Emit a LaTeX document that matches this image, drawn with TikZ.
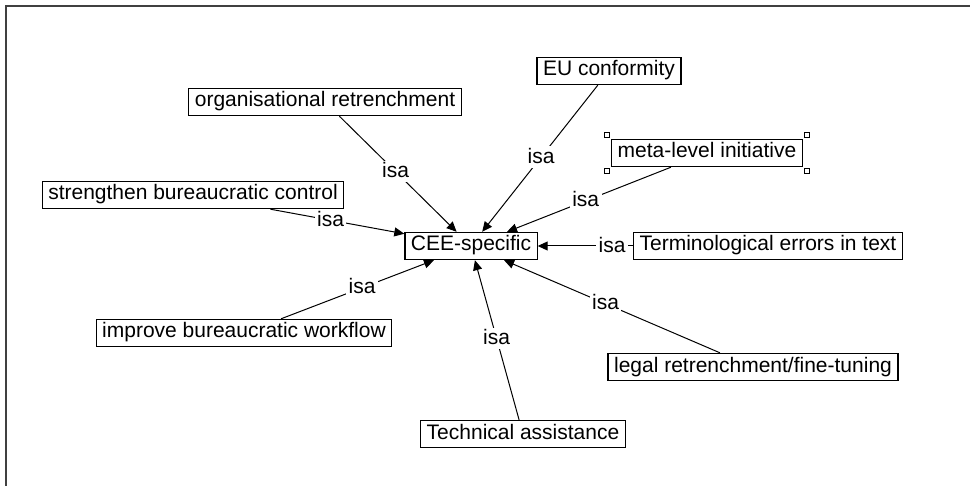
\documentclass[tikz,border=0pt]{standalone}
\usepackage{fontspec}
\setmainfont{Liberation Sans}
\usetikzlibrary{shapes,arrows.meta,positioning,calc}

\tikzset{
  concept/.style={draw, line width=0.6pt, inner xsep=3pt, inner ysep=2.1pt, text height=0.72em, text depth=0.22em},
  isa/.style={fill=white, inner sep=1.2pt, text height=0.72em, text depth=0.1em},
  rel/.style={-{Triangle[length=5pt,width=4.5pt]}, line width=0.5pt},
  handle/.style={draw, fill=white, line width=0.4pt, minimum size=2.6pt, inner sep=0pt}
}

\begin{document}
\begin{tikzpicture}[x=0.5pt,y=-0.5pt,font=\fontsize{10.5}{12}\selectfont]
  \useasboundingbox (0,0) rectangle (970,486);
  \draw[line width=1pt, black!75] (6,486) -- (6,6) -- (970,6);

  \node[concept] (cee) at (471,246) {CEE-specific};
  \node[concept] (org) at (325,102) {organisational retrenchment};
  \node[concept] (str) at (193,195) {strengthen bureaucratic control};
  \node[concept] (eu) at (609,71) {EU conformity};
  \node[concept] (meta) at (707,153) {meta-level initiative};
  \node[concept] (term) at (768,246) {Terminological errors in text};
  \node[concept] (legal) at (753,367) {legal retrenchment/fine-tuning};
  \node[concept] (tech) at (523,434) {Technical assistance};
  \node[concept] (impr) at (244,333) {improve bureaucratic workflow};

  % selection handles
  \node[handle] (hnw) at ($(meta.north west)+(-4,-4)$) {};
  \node[handle] (hne) at ($(meta.north east)+(4,-4)$) {};
  \node[handle] (hsw) at ($(meta.south west)+(-4,4)$) {};
  \node[handle] (hse) at ($(meta.south east)+(4,4)$) {};

  \draw[rel] (org) -- node[isa, pos=0.48] {isa} (cee);
  \draw[rel] (str) -- node[isa, pos=0.45] {isa} (cee);
  \draw[rel] (eu) -- node[isa, pos=0.49] {isa} (cee);
  \draw[rel] (meta) -- node[isa, pos=0.52] {isa} (cee);
  \draw[rel] (term) -- node[isa, pos=0.22] {isa} (cee);
  \draw[rel] (legal) -- node[isa, pos=0.53] {isa} (cee);
  \draw[rel] (tech) -- node[isa, pos=0.51] {isa} (cee);
  \draw[rel] (impr) -- node[isa, pos=0.53] {isa} (cee);
\end{tikzpicture}
\end{document}
